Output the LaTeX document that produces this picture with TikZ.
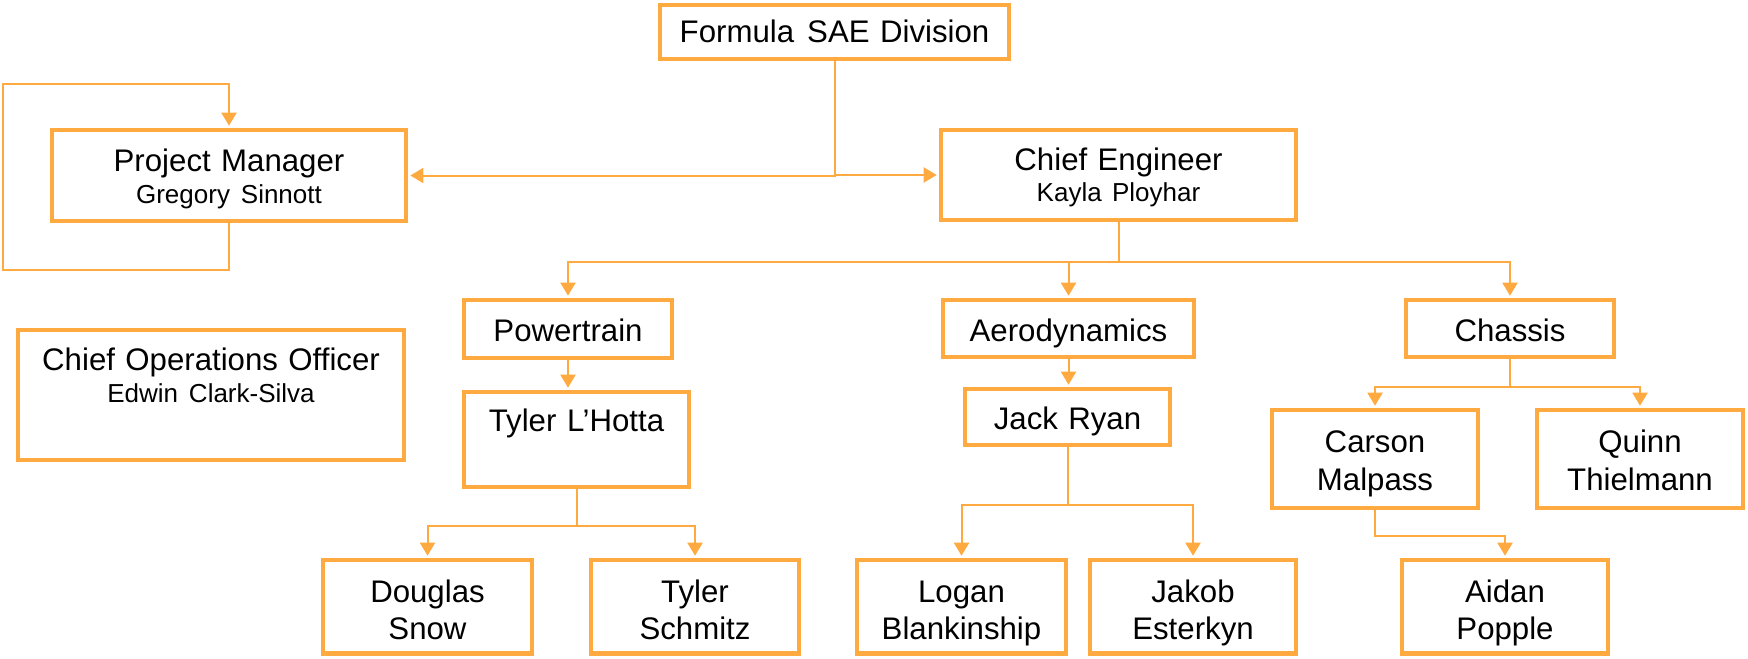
\documentclass[tikz,border=0pt]{standalone}
\usepackage{fontspec}
\setmainfont{Liberation Sans}
\usetikzlibrary{arrows.meta, positioning, calc}

\definecolor{teamorange}{RGB}{255,170,64}
\newcommand{\staffname}[1]{{\fontsize{13}{15.8}\selectfont #1}}
\newcommand{\widegap}{\hspace{0.42em}}

\begin{document}
\begin{tikzpicture}[
    x=0.5pt, y=-0.5pt,
    unit/.style={draw=teamorange, line width=2.3pt, inner sep=0pt, align=center, font=\fontsize{15.6}{18.65}\selectfont},
    lead/.style={unit, font=\fontsize{15.6}{15.8}\selectfont},
    group/.style={unit, text width=104pt, text height=20.85pt, text depth=7.65pt},
    leaf/.style={unit, text width=104pt, text height=21pt, text depth=25.75pt},
    link/.style={draw=teamorange, line width=1pt, -{Triangle[length=6.5pt, width=7.5pt]}, shorten >=1pt}
]
    \useasboundingbox (0,0) rectangle (1748,658);

    % Top of the team
    \node[unit, text width=174.5pt, text height=18.85pt, text depth=8.15pt] (fsae) at (834.5,32) {Formula\widegap SAE Division};
    \node[lead, text width=177pt, text height=20.85pt, text depth=24.65pt] (pm) at (229,175.5) {Project Manager\\\staffname{Gregory\widegap Sinnott}};
    \node[lead, text width=177.5pt, text height=20pt, text depth=25pt] (ce) at (1118.5,175) {Chief Engineer\\\staffname{Kayla Ployhar}};
    \node[lead, text width=193pt, text height=20.35pt, text depth=44.65pt] (coo) at (211,395) {Chief Operations Officer\\\staffname{Edwin\widegap Clark-Silva}};

    % Sub-teams
    \node[group, text depth=8.15pt] (power) at (568,329) {Powertrain};
    \node[group, text width=125.5pt] (aero) at (1068.5,328.5) {Aerodynamics};
    \node[group] (chassis) at (1510,328.5) {Chassis};

    % Leads of the sub-teams
    \node[unit, text width=112.5pt, text height=19.85pt, text depth=27.65pt] (lhotta) at (576.5,439.5) {Tyler\hspace{0.34em}L’Hotta};
    \node[unit, text width=102.5pt, text height=20.15pt, text depth=7.85pt] (ryan) at (1067.5,417) {Jack Ryan};
    \node[unit, text width=103pt, text height=21.35pt, text depth=27.65pt] (carson) at (1375,459) {Carson\\Malpass};
    \node[unit, text width=103pt, text height=21.35pt, text depth=27.65pt] (quinn) at (1640,459) {Quinn\\Thielmann};

    % Members
    \node[leaf, text width=104.5pt] (douglas) at (427.5,606.75) {Douglas\\Snow};
    \node[leaf] (schmitz) at (695,606.75) {Tyler\\Schmitz};
    \node[leaf, text width=104.5pt] (logan) at (961.5,606.75) {Logan\\Blankinship};
    \node[leaf, text width=103pt] (jakob) at (1193,606.75) {Jakob\\Esterkyn};
    \node[leaf, text width=103pt] (aidan) at (1505,606.75) {Aidan\\Popple};

    % Connections
    \draw[link] (fsae.south) |- (pm.east);
    \draw[link] (fsae.south) |- (ce.west);

    \coordinate (loop_low) at (3,270);
    \coordinate (loop_high) at (3,84);
    \draw[link] (pm.south) |- (loop_low) -- (loop_high) -| (pm.north);

    \coordinate (ce_bus) at ($(ce.south)+(0,40)$);
    \draw[link] (ce.south) -- (ce_bus) -| (power.north);
    \draw[link] (ce.south) -- (ce_bus) -| (aero.north);
    \draw[link] (ce.south) -- (ce_bus) -| (chassis.north);

    \draw[link] (power.south) -- (power.south |- lhotta.north);
    \draw[link] (aero.south) -- (aero.south |- ryan.north);

    \coordinate (lhotta_bus) at ($(lhotta.south)+(0,36.5)$);
    \draw[link] (lhotta.south) -- (lhotta_bus) -| (douglas.north);
    \draw[link] (lhotta.south) -- (lhotta_bus) -| (schmitz.north);

    \coordinate (ryan_bus) at ($(ryan.south)+(0,58)$);
    \draw[link] (ryan.south) -- (ryan_bus) -| (logan.north);
    \draw[link] (ryan.south) -- (ryan_bus) -| (jakob.north);

    \coordinate (chassis_bus) at ($(chassis.south)+(0,28)$);
    \draw[link] (chassis.south) -- (chassis_bus) -| (carson.north);
    \draw[link] (chassis.south) -- (chassis_bus) -| (quinn.north);

    \coordinate (carson_bus) at ($(carson.south)+(0,26)$);
    \draw[link] (carson.south) -- (carson_bus) -| (aidan.north);

\end{tikzpicture}
\end{document}
